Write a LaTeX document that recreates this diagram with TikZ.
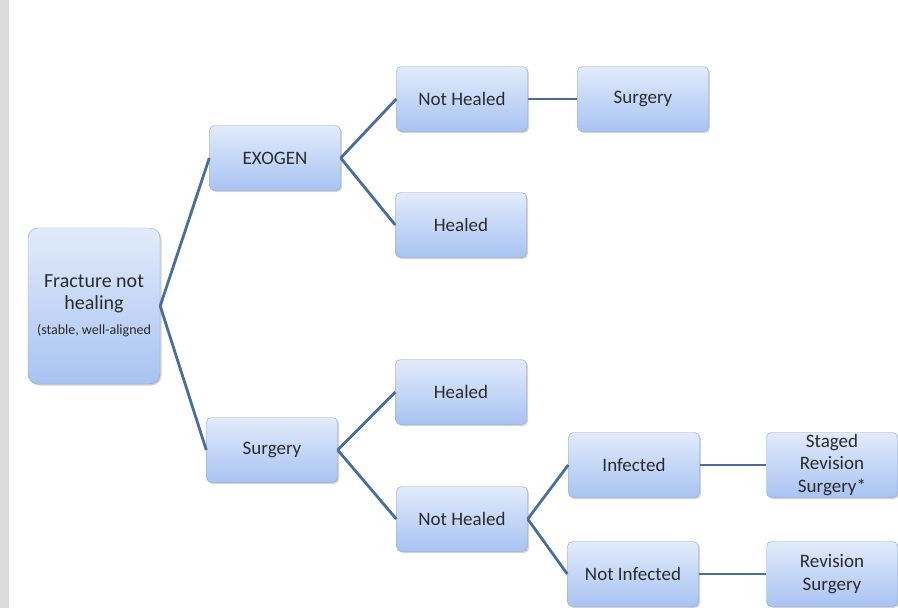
\documentclass[tikz,border=0pt]{standalone}
\usepackage{fontspec}
\setmainfont{Carlito}
\usetikzlibrary{shadows}
\definecolor{linkblue}{HTML}{4A6E9A}
\definecolor{boxtop}{HTML}{E2EBFB}
\definecolor{boxbot}{HTML}{A8C3F2}
\definecolor{boxline}{HTML}{8FA3C4}
\definecolor{txtgray}{HTML}{2B2B2B}
\tikzset{
  stepbox/.style={draw=boxline, rounded corners=5pt, top color=boxtop, bottom color=boxbot,
    minimum width=131pt, minimum height=65pt, text=txtgray, font=\fontsize{19}{22.5}\selectfont,
    align=center, inner sep=1pt, drop shadow={shadow xshift=1.5pt, shadow yshift=-1.5pt, opacity=0.35}},
  link/.style={draw=linkblue, line width=2.8pt}
}
\begin{document}
\begin{tikzpicture}[x=1pt,y=-1pt]
\useasboundingbox (0,0) rectangle (898,608);
\fill[gray!28] (0,0) rectangle (9,608);
\begin{scope}[every node/.style={stepbox}]
\node[minimum width=132pt, minimum height=156pt, rounded corners=10pt,
  font=\fontsize{20}{22}\selectfont] (frac) at (94,306)
  {Fracture not\\ healing\\[3pt] \fontsize{14}{15}\selectfont (stable, well-aligned};
\node (exo) at (275,158) {EXOGEN};
\node (surg) at (272,450) {Surgery};
\node (nh1) at (462,99) {Not Healed};
\node (surg2) at (643,99) {Surgery};
\node (h1) at (461,225) {Healed};
\node (h2) at (461,392) {Healed};
\node (nh2) at (462,519) {Not Healed};
\node (inf) at (634,465) {Infected};
\node[text depth=4pt] (staged) at (832,465) {Staged\\ Revision\\ Surgery*};
\node (ninf) at (633,574) {Not Infected};
\node (rev) at (832,574) {Revision\\ Surgery};
\end{scope}

\begin{scope}[every edge/.style={link}]
    \path (frac.east) edge (exo.west);
    \path (frac.east) edge (surg.west);
    \path (exo.east) edge (nh1.west);
    \path (exo.east) edge (h1.west);
    \path (nh1) edge (surg2);
    \path (surg.east) edge (h2.west);
    \path (surg.east) edge (nh2.west);
    \path (nh2.east) edge (inf.west);
    \path (nh2.east) edge (ninf.west);
    \path (inf) edge (staged);
    \path (ninf) edge (rev);
\end{scope}
\end{tikzpicture}
\end{document}
